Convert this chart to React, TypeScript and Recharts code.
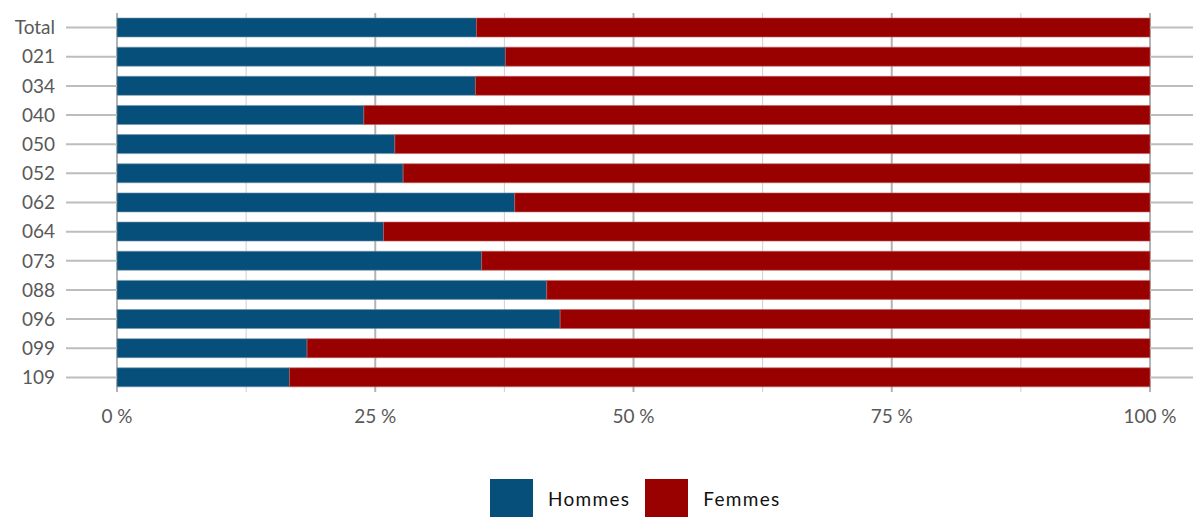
import React from "react"
import {
  Bar,
  BarChart,
  CartesianGrid,
  XAxis,
  YAxis,
} from "recharts"

// Share of men / women per unit, in %
const categories = ["Total", "021", "034", "040", "050", "052", "062", "064", "073", "088", "096", "099", "109"]
const hommes = [34.8, 37.6, 34.7, 23.9, 26.9, 27.7, 38.5, 25.8, 35.3, 41.6, 42.9, 18.4, 16.7]
const femmes = [65.2, 62.4, 65.3, 76.1, 73.1, 72.3, 61.5, 74.2, 64.7, 58.4, 57.1, 81.6, 83.3]
const majorTicks = [0, 25, 50, 75, 100]
const minorTicks = [12.5, 37.5, 62.5, 87.5]

const data = categories.map((name, i) => ({ name, hommes: hommes[i], femmes: femmes[i] }))

const BLUE = "#064f7a"
const RED = "#990000"
const TEXT = "#595959"
const FONT = "Lato, 'Open Sans', sans-serif"

const legendItems = [
  { label: "Hommes", color: BLUE },
  { label: "Femmes", color: RED },
]

export default function App() {
  return (
    <div style={{ position: "absolute", left: 0, top: 0, width: 1193, height: 517, background: "#fff", fontFamily: FONT }}>
      <BarChart
        width={1193}
        height={517}
        data={data}
        layout="vertical"
        barSize={19}
        margin={{ top: 13, right: 0, bottom: 95, left: 0 }}
      >
        <CartesianGrid horizontal={false} verticalValues={minorTicks} stroke="#cfcfcf" strokeWidth={1} />
        <CartesianGrid horizontal={false} verticalValues={majorTicks} stroke="#b3b3b3" strokeWidth={2} />
        <XAxis
          type="number"
          domain={[0, 100]}
          ticks={majorTicks}
          tickFormatter={(v) => `${v} %`}
          axisLine={false}
          tickLine={false}
          tickMargin={12}
          height={30}
          tick={{ fill: TEXT, fontSize: 19, fontFamily: FONT }}
        />
        <YAxis
          yAxisId="left"
          type="category"
          dataKey="name"
          width={117}
          axisLine={false}
          tickSize={51}
          tickMargin={11}
          tickLine={{ stroke: "#bdbdbd", strokeWidth: 2 }}
          tick={{ fill: TEXT, fontSize: 19, fontFamily: FONT }}
        />
        <YAxis
          yAxisId="right"
          orientation="right"
          type="category"
          dataKey="name"
          width={43}
          axisLine={false}
          tickSize={43}
          tickLine={{ stroke: "#bdbdbd", strokeWidth: 2 }}
          tick={() => <g />}
        />
        <Bar yAxisId="left" dataKey="hommes" stackId="a" fill={BLUE} stroke="#6f93ad" strokeWidth={0.6} isAnimationActive={false} />
        <Bar yAxisId="left" dataKey="femmes" stackId="a" fill={RED} stroke="#c06060" strokeWidth={0.6} isAnimationActive={false} />
      </BarChart>
      <div
        style={{
          position: "absolute",
          top: 479,
          left: 490,
          display: "flex",
          alignItems: "center",
          height: 38,
        }}
      >
        {legendItems.map((item) => (
          <div key={item.label} style={{ display: "flex", alignItems: "center" }}>
            <div style={{ width: 43, height: 38, background: item.color }} />
            <span style={{ marginLeft: 15, marginRight: 15, fontSize: 19, letterSpacing: 1.3, color: "#111", fontFamily: FONT }}>
              {item.label}
            </span>
          </div>
        ))}
      </div>
    </div>
  )
}
